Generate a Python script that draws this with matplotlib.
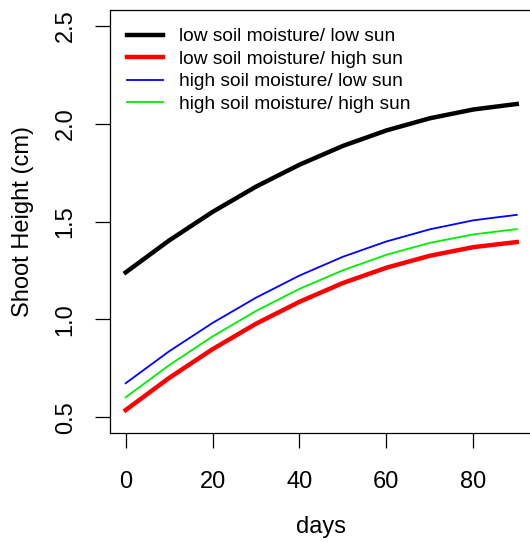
import matplotlib.pyplot as plt

plt.rcParams['font.family'] = ['Liberation Sans', 'DejaVu Sans']

# --- DATA ---
days = [0, 10, 20, 30, 40, 50, 60, 70, 80, 90]
low_moist_low_sun = [1.240, 1.403, 1.549, 1.678, 1.790, 1.886, 1.965, 2.027, 2.072, 2.100]
low_moist_high_sun = [0.537, 0.701, 0.848, 0.978, 1.090, 1.186, 1.264, 1.325, 1.369, 1.395]
high_moist_low_sun = [0.674, 0.837, 0.982, 1.111, 1.224, 1.320, 1.398, 1.460, 1.506, 1.534]
high_moist_high_sun = [0.602, 0.766, 0.913, 1.043, 1.156, 1.251, 1.330, 1.391, 1.434, 1.461]

labels = ["low soil moisture/ low sun", "low soil moisture/ high sun",
          "high soil moisture/ low sun", "high soil moisture/ high sun"]
x_ticks = [0, 20, 40, 60, 80]
y_ticks = [0.5, 1.0, 1.5, 2.0, 2.5]

W, H = 530, 542
fig = plt.figure(figsize=(W / 100, H / 100), dpi=100)
# plot region runs a bit past the right edge, like the cropped original
ax = fig.add_axes([110 / W, 109 / H, 422.4 / W, 423 / H])

ax.plot(days, low_moist_low_sun, color='black', lw=3.2, label=labels[0])
ax.plot(days, low_moist_high_sun, color='red', lw=3.2, label=labels[1])
ax.plot(days, high_moist_low_sun, color='blue', lw=1.3, label=labels[2])
ax.plot(days, high_moist_high_sun, color='#00ee00', lw=1.3, label=labels[3])

ax.set_xlim(-3.6, 93.6)
ax.set_ylim(0.42, 2.58)
ax.set_xticks(x_ticks)
ax.set_yticks(y_ticks)
ax.set_yticklabels([f"{v:.1f}" for v in y_ticks], rotation=90, va='center')

for s in ax.spines.values():
    s.set_linewidth(0.9)
ax.spines['right'].set_visible(False)
ax.tick_params(length=11, width=0.9, labelsize=17)
ax.tick_params(axis='x', pad=16)
ax.tick_params(axis='y', pad=13)

ax.set_xlabel("days", fontsize=17, labelpad=17)
ax.set_ylabel("Shoot Height (cm)", fontsize=17, labelpad=15)

ax.legend(loc='upper left', bbox_to_anchor=(126.7 / W, 1 - 28 / H),
          bbox_transform=fig.transFigure, frameon=False, fontsize=13.8,
          borderpad=0, borderaxespad=0, handlelength=1.9,
          handletextpad=0.83, labelspacing=0.26)

fig.savefig('out.png', dpi=100)
